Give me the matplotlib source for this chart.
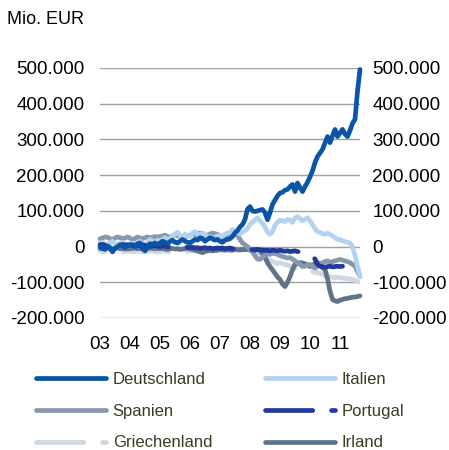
import numpy as np
import matplotlib
matplotlib.use("Agg")
import matplotlib.pyplot as plt
from matplotlib.ticker import FuncFormatter
from matplotlib.transforms import ScaledTranslation

plt.rcParams['font.family'] = ['Liberation Sans', 'DejaVu Sans']

# monthly values, Jan 2003 .. Sep 2011, in thousand EUR million
deutschland = [
    0, -5, -8, 2, -3, -15, -5, 0, 5, 3, -2, 2,
    5, 3, 0, 8, 10, -5, -12, 0, 8, 6, 10, 5,
    10, 15, 12, 8, 14, 18, 12, 10, 15, 20, 15, 12,
    10, 15, 20, 18, 25, 22, 15, 20, 25, 22, 18, 20,
    15, 12, 18, 20, 22, 28, 38, 45, 55, 62, 76, 105,
    112, 100, 98, 100, 102, 104, 95, 75, 95, 118, 130, 142,
    150, 152, 158, 160, 168, 174, 154, 178, 165, 154, 168, 180,
    195, 212, 235, 252, 262, 272, 290, 308, 291, 310, 328, 308,
    318, 328, 315, 308, 325, 345, 356, 435, 496,
]
italien = [
    10, 12, 8, 5, 10, 15, 8, 5, 10, 12, 8, 5,
    8, 10, 5, 12, 15, 10, 5, 10, 20, 15, 12, 18,
    15, 20, 25, 18, 22, 30, 35, 40, 30, 25, 35, 30,
    28, 38, 42, 35, 30, 38, 35, 25, 28, 20, 25, 30,
    30, 28, 35, 38, 40, 48, 42, 38, 36, 40, 45, 50,
    62, 68, 75, 80, 72, 65, 55, 40, 34, 42, 60, 68,
    74, 72, 70, 76, 74, 68, 80, 84, 78, 72, 76, 81,
    72, 62, 50, 42, 40, 36, 34, 38, 34, 30, 25, 20,
    20, 16, 14, 12, 10, 0, -25, -55, -85,
]
spanien = [
    22, 24, 27, 26, 22, 20, 24, 27, 25, 22, 24, 27,
    24, 20, 22, 27, 24, 22, 25, 27, 24, 26, 28, 27,
    28, 30, 32, 28, 25, 30, 33, 30, 28, 25, 27, 30,
    32, 35, 33, 36, 38, 35, 30, 32, 35, 38, 36, 34,
    30, 28, 25, 30, 35, 40, 42, 30, 20, 10, 5, 0,
    -8, -15, -25, -35, -36, -30, -25, -20, -22, -18, -20, -22,
    -25, -28, -30, -32, -31, -35, -40, -45, -50, -56, -55, -52,
    -50, -55, -60, -55, -50, -45, -42, -40, -45, -42, -40, -38,
    -36, -38, -40, -42, -45, -50, -55, -70, -84,
]
# series ends in spring 2011
portugal = [
    5, 6, 4, 8, 10, 6, 5, 3, 5, 6, 4, 5,
    4, 5, 3, 2, 4, 5, 3, 2, 0, 2, 3, 1,
    0, 2, 1, -1, 0, 2, 1, 0, -2, -1, 0, -2,
    -3, -2, -4, -3, -5, -4, -3, -5, -4, -6, -5, -4,
    -5, -4, -6, -5, -4, -6, -7, -8, -6, -7, -8, -9,
    -8, -9, -10, -8, -9, -10, -11, -10, -12, -10, -11, -12,
    -10, -12, -13, -12, -14, -13, -12, -14, -15, -14, -16, -20,
    -22, -28, -35, -50, -55, -56, -58, -56, -55, -57, -56, -55,
    -56, -55, None, None, None, None, None, None, None,
]
griechenland = [
    -12, -14, -15, -13, -12, -15, -16, -14, -13, -15, -14, -12,
    -13, -15, -14, -12, -13, -16, -15, -14, -13, -12, -14, -15,
    -14, -12, -13, -15, -14, -13, -12, -14, -15, -13, -12, -14,
    -12, -11, -13, -12, -14, -13, -12, -11, -13, -12, -10, -11,
    -10, -9, -11, -10, -12, -11, -10, -9, -10, -11, -12, -10,
    -12, -14, -15, -17, -20, -25, -30, -36, -38, -42, -45, -48,
    -45, -48, -50, -52, -55, -58, -60, -58, -62, -65, -63, -66,
    -68, -70, -72, -73, -75, -78, -82, -85, -84, -86, -87, -86,
    -87, -88, -89, -90, -91, -92, -94, -98, -101,
]
irland = [
    -5, -6, -4, -5, -7, -6, -5, -4, -6, -5, -7, -6,
    -6, -5, -4, -6, -5, -7, -5, -6, -4, -5, -6, -5,
    -6, -5, -7, -8, -6, -5, -7, -6, -8, -7, -6, -5,
    -7, -8, -10, -12, -15, -17, -14, -12, -10, -12, -11, -10,
    -8, -9, -10, -8, -9, -10, -8, -9, -10, -8, -9, -8,
    -10, -9, -8, -8, -12, -20, -30, -45, -56, -65, -75, -85,
    -92, -105, -112, -100, -84, -65, -50, -48, -45, -46, -48, -52,
    -56, -52, -48, -45, -50, -60, -64, -90, -125, -148, -152, -154,
    -150, -148, -146, -145, -143, -142, -141, -140, -138,
]
year_labels = ["03", "04", "05", "06", "07", "08", "09", "10", "11"]

series = [
    ("Deutschland", deutschland, "#0A55A8", "-"),
    ("Italien", italien, "#B4D2F0", "-"),
    ("Spanien", spanien, "#8797AD", "-"),
    ("Portugal", portugal, "#1F3A9A", "--"),
    ("Griechenland", griechenland, "#CFD7E1", "--"),
    ("Irland", irland, "#5F7488", "-"),
]
zorder = {"Irland": 2, "Griechenland": 1, "Spanien": 3, "Italien": 4, "Portugal": 5, "Deutschland": 6}

fig = plt.figure(figsize=(4.49, 4.5), dpi=100)
ax = fig.add_axes([100 / 449, 132 / 450, 260 / 449, 250 / 450])

months = np.arange(len(deutschland)) / 12.0
lines = {}
for name, vals, color, ls in series:
    y = np.array([np.nan if v is None else v for v in vals], dtype=float) * 1000
    line, = ax.plot(months, y, color=color, lw=3.4,
                    solid_capstyle="round", dash_capstyle="round",
                    zorder=zorder[name], clip_on=False, label=name)
    if ls == "--":
        line.set_linestyle((9, (10, 4)))
    lines[name] = line

ax.set_xlim(0, months[-1])
ax.set_ylim(-200000, 500000)
ax.set_yticks(np.arange(-200000, 500001, 100000))
ax.yaxis.set_major_formatter(FuncFormatter(lambda v, p: f"{int(v):,}".replace(",", ".")))
ax.set_xticks(np.arange(len(year_labels)))
ax.set_xticklabels(year_labels)
ax.tick_params(axis="both", length=0, labelsize=13.5, colors="black")
ax.tick_params(axis="y", pad=11, labelright=True)
ax.tick_params(axis="x", pad=13)
ax.grid(axis="y", color="#A0A0A0", lw=1)
ax.set_axisbelow(True)
for s in ax.spines.values():
    s.set_visible(False)

# right-hand labels a bit closer to the plot so the negatives fit
shift = ScaledTranslation(-3 / 100, 0, fig.dpi_scale_trans)
for t in ax.yaxis.get_major_ticks():
    t.label2.set_transform(t.label2.get_transform() + shift)

fig.text(7 / 449, 1 - 20 / 450, "Mio. EUR", fontsize=13, va="center", ha="left")

# legend is filled column by column
order = ["Deutschland", "Spanien", "Griechenland", "Italien", "Portugal", "Irland"]
leg = fig.legend(handles=[lines[n] for n in order], loc="upper left",
                 bbox_to_anchor=(21 / 449, 1 - 357 / 450),
                 ncol=2, frameon=False, fontsize=12, handlelength=4.2,
                 handletextpad=0.4, columnspacing=3.15, labelspacing=1.0)
for t in leg.get_texts():
    t.set_color("#3B3B1F")
for h, n in zip(leg.legend_handles, order):
    if n in ("Portugal", "Griechenland"):
        h.set_linestyle((0, (10, 4)))

fig.savefig("out.png", dpi=100)
